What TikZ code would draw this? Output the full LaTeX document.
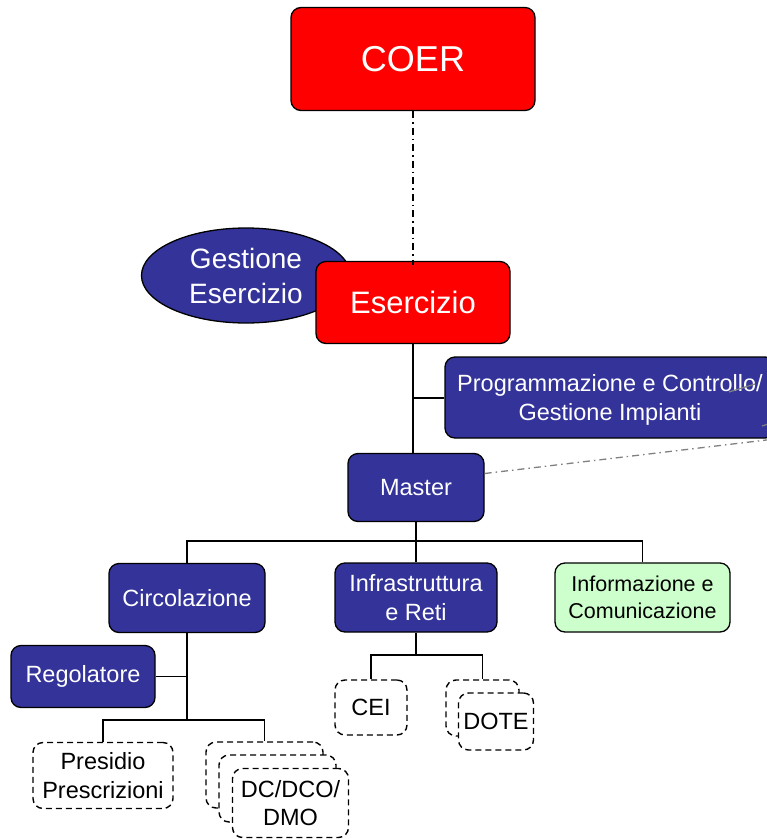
\documentclass[tikz,border=0pt]{standalone}
\usepackage{fontspec}
\setmainfont{Liberation Sans}
\usetikzlibrary{shapes.geometric}
\definecolor{boxblue}{HTML}{333399}
\definecolor{boxred}{HTML}{FF0000}
\definecolor{boxgreen}{HTML}{CCFFCC}
\definecolor{linegrey}{HTML}{808080}
\tikzset{
  base/.style={draw=black, line width=1.3pt, rounded corners=10pt, align=center, inner sep=0pt,
    font=\fontsize{23.5}{28.5}\selectfont},
  redbox/.style={base, fill=boxred, text=white},
  bluebox/.style={base, fill=boxblue, text=white},
  greenbox/.style={base, fill=boxgreen, text=black, font=\fontsize{21.5}{27}\selectfont},
  dashbox/.style={base, fill=white, text=black, dash pattern=on 6pt off 4pt, line width=1.4pt},
  conn/.style={draw=black, line width=1.6pt},
  dashdot/.style={line width=1.4pt, dash pattern=on 7pt off 4pt on 1.5pt off 4pt},
}
\begin{document}
\begin{tikzpicture}[x=1pt,y=-1pt]
\useasboundingbox (0,0) rectangle (767,839);
% top
\node[redbox, minimum width=244pt, minimum height=103pt, font=\fontsize{36}{40}\selectfont] (coer) at (413,59) {COER};
\node[draw=black, line width=1.3pt, fill=boxblue, text=white, ellipse, minimum width=209pt, minimum height=95pt, inner sep=0pt, align=center, font=\fontsize{28}{35}\selectfont] (gest) at (246,275.5) {Gestione\\Esercizio};
\node[redbox, minimum width=194pt, minimum height=82pt, font=\fontsize{31}{36}\selectfont] (eser) at (413,302.5) {Esercizio};
\draw[dashdot, draw=black] (coer.south) -- ([yshift=-4pt]eser.north);
% middle
\node[bluebox, minimum width=330pt, minimum height=81pt, text depth=0pt] (prog) at (610,397.5) {Programmazione e Controllo/\\Gestione Impianti};
\node[bluebox, minimum width=136pt, minimum height=68pt] (master) at (416,487.5) {Master};
\coordinate (mj) at (413,398);
\draw[conn] (eser.south) -- (eser.south |- master.north);
\draw[conn] (mj) -- (prog.west |- mj);
% grey dash-dot
\coordinate (gend) at (800,436);
\draw[dashdot, draw=linegrey, line width=1.3pt] ([yshift=14pt]master.east) -- (gend);
\coordinate (g1a) at (729,392); \coordinate (g1b) at (755,384);
\coordinate (g2a) at (762,426); \coordinate (g2b) at (770,423.5);
\draw[linegrey, line width=1.2pt] (g1a) -- (g1b);
\draw[linegrey, line width=1.2pt] (g2a) -- (g2b);
% level 2
\node[bluebox, minimum width=156pt, minimum height=69pt] (circ) at (187,598) {Circolazione};
\node[bluebox, minimum width=162pt, minimum height=69pt] (infra) at (416,597.5) {Infrastruttura\\e Reti};
\node[greenbox, minimum width=175pt, minimum height=69pt] (info) at (642.5,597.5) {Informazione e\\Comunicazione};
\coordinate (bus) at (416,541);
\draw[conn] (master.south) -- (infra.north);
\draw[conn] (circ.north) |- (bus) -| (info.north);
% circolazione subtree
\node[bluebox, minimum width=144pt, minimum height=62pt] (reg) at (83,676.5) {Regolatore};
\node[dashbox, minimum width=140pt, minimum height=66pt] (pres) at (103,775.5) {Presidio\\Prescrizioni};
\node[dashbox, minimum width=117pt, minimum height=66pt] (dc1) at (264.5,775) {};
\node[dashbox, minimum width=117pt, minimum height=67pt] (dc2) at (277.5,788.5) {};
\node[dashbox, minimum width=116pt, minimum height=69pt] (dc3) at (290.5,803) {DC/DCO/\\DMO};
\coordinate (cbus) at (187,720);
\draw[conn] (circ.south) -- (cbus);
\draw[conn] (reg.east) -- (reg.east -| circ.south);
\draw[conn] (pres.north) |- (cbus) -| (dc1.north);
% infrastruttura subtree
\node[dashbox, minimum width=72pt, minimum height=55pt] (cei) at (371,707.5) {CEI};
\node[dashbox, minimum width=73pt, minimum height=56pt] (dote1) at (482.5,708) {};
\node[dashbox, minimum width=75pt, minimum height=57pt] (dote2) at (496,721.5) {DOTE};
\coordinate (ibus) at (416,655);
\draw[conn] (infra.south) -- (ibus);
\draw[conn] (cei.north) |- (ibus) -| (dote1.north);
\end{tikzpicture}
\end{document}
